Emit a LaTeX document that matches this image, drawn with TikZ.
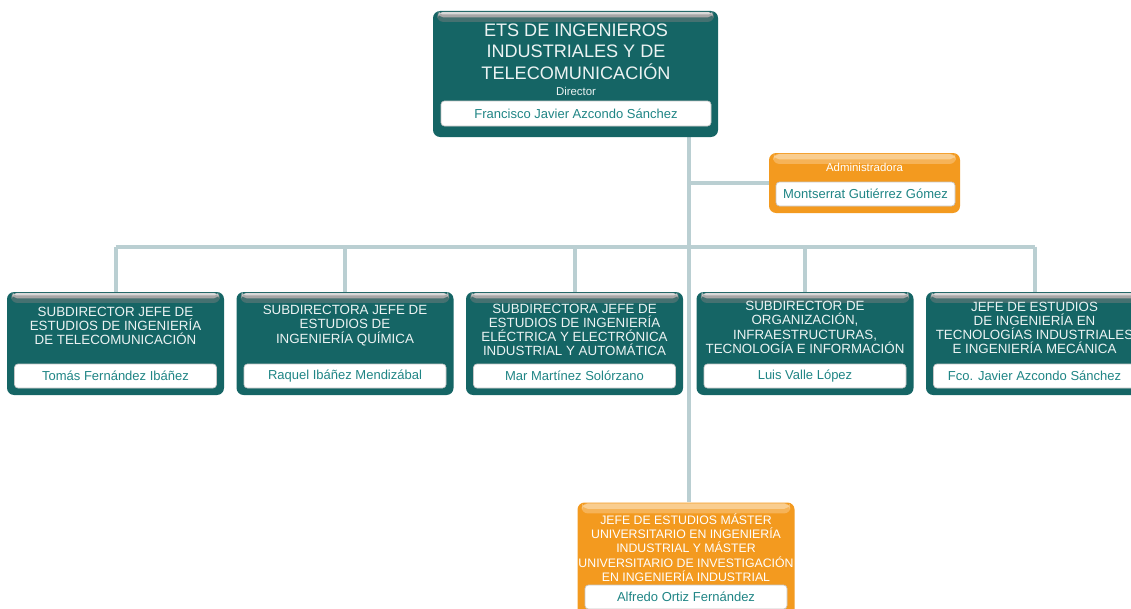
\documentclass[tikz,border=0pt]{standalone}
\usepackage{fontspec}
\setmainfont{Liberation Sans}
\usetikzlibrary{backgrounds}
\definecolor{etsteal}{HTML}{156565}
\definecolor{etsorange}{HTML}{F39A1F}
\definecolor{etsname}{HTML}{1F8585}
\definecolor{etslink}{HTML}{BACFD2}

\begin{document}
\begin{tikzpicture}[x=0.02cm,y=-0.02cm,
unit/.style={rounded corners=4pt,fill=etsteal,inner sep=0pt,
minimum width=217*0.02cm,minimum height=103*0.02cm,
path picture={
\fill[rounded corners=3.5pt,gray!45!etsteal]
([xshift=2.3pt,yshift=-0.4pt]path picture bounding box.north west) rectangle
([xshift=-2.3pt,yshift=-6.2pt]path picture bounding box.north east);
\fill[rounded corners=3pt,gray!70]
([xshift=2.8pt,yshift=-0.6pt]path picture bounding box.north west) rectangle
([xshift=-2.8pt,yshift=-3.6pt]path picture bounding box.north east);
\fill[rounded corners=2pt,gray!30]
([xshift=3.3pt,yshift=-0.7pt]path picture bounding box.north west) rectangle
([xshift=-3.3pt,yshift=-1.9pt]path picture bounding box.north east);}},
admin/.style={unit,fill=etsorange,
path picture={
\fill[rounded corners=3.5pt,etsorange!75!white]
([xshift=2.3pt,yshift=-0.4pt]path picture bounding box.north west) rectangle
([xshift=-2.3pt,yshift=-6.2pt]path picture bounding box.north east);
\fill[rounded corners=3pt,etsorange!50!white]
([xshift=2.8pt,yshift=-0.6pt]path picture bounding box.north west) rectangle
([xshift=-2.8pt,yshift=-3.6pt]path picture bounding box.north east);}},
role/.style={align=center,font=\fontsize{7.6}{8.1}\selectfont,text=white!92!etsteal,inner sep=0pt},
small/.style={role,font=\fontsize{6.5}{7.5}\selectfont},
person/.style={draw=gray!45,fill=white,rounded corners=2pt,inner sep=0pt,
font=\fontsize{7.4}{8.5}\selectfont,text=etsname,
minimum width=202*0.02cm,minimum height=24*0.02cm},
link/.style={draw=etslink,line width=4*0.02cm}
]
\path[use as bounding box,clip] (0,0) rectangle (1131,608);

% director
\node[unit,minimum width=285*0.02cm,minimum height=126*0.02cm] (dir) at (575.5,74) {};
\node[role,font=\fontsize{10.3}{12.2}\selectfont] (dirT) at (576,51.5) {ETS DE INGENIEROS\\INDUSTRIALES Y DE\\TELECOMUNICACIÓN};
\node[small] (dirR) at (576,91) {Director};
\node[person,minimum width=270*0.02cm,minimum height=25*0.02cm] (dirN) at (576,113.5) {Francisco Javier Azcondo Sánchez};

% administradora
\node[admin,minimum width=191*0.02cm,minimum height=60*0.02cm] (adm) at (864.5,183) {};
\node[small,text=white] (admR) at (864.5,167) {Administradora};
\node[person,minimum width=179*0.02cm] (admN) at (865.5,194) {Montserrat Gutiérrez Gómez};

% subdirecciones
\node[unit] (s1) at (115.5,343.5) {};
\node[role] (s1T) at (115.5,326) {SUBDIRECTOR JEFE DE\\ESTUDIOS DE INGENIERÍA\\DE TELECOMUNICACIÓN};
\node[person] (s1N) at (115.5,376) {Tomás Fernández Ibáñez};

\node[unit] (s2) at (345,343.5) {};
\node[role] (s2T) at (345,325.5) {SUBDIRECTORA JEFE DE\\ESTUDIOS DE\\INGENIERÍA QUÍMICA};
\node[person] (s2N) at (345,376) {Raquel Ibáñez Mendizábal};

\node[unit] (s3) at (574.5,343.5) {};
\node[role] (s3T) at (574.5,330) {SUBDIRECTORA JEFE DE\\ESTUDIOS DE INGENIERÍA\\ELÉCTRICA Y ELECTRÓNICA\\INDUSTRIAL Y AUTOMÁTICA};
\node[person] (s3N) at (574.5,376) {Mar Martínez Solórzano};

\node[unit] (s4) at (805,343.5) {};
\node[role] (s4T) at (805,327.5) {SUBDIRECTOR DE\\ORGANIZACIÓN,\\INFRAESTRUCTURAS,\\TECNOLOGÍA E INFORMACIÓN};
\node[person] (s4N) at (805,376) {Luis Valle López};

\node[unit] (s5) at (1034.5,343.5) {};
\node[role] (s5T) at (1034.5,328) {JEFE DE ESTUDIOS\\DE INGENIERÍA EN\\TECNOLOGÍAS INDUSTRIALES\\E INGENIERÍA MECÁNICA};
\node[person] (s5N) at (1034.5,376) {Fco. Javier Azcondo Sánchez};

% master
\node[admin,minimum height=125*0.02cm] (mst) at (686,565) {};
\node[role,text=white,font=\fontsize{7.0}{8.1}\selectfont] (mstT) at (686,547.5) {JEFE DE ESTUDIOS MÁSTER\\UNIVERSITARIO EN INGENIERÍA\\INDUSTRIAL Y MÁSTER\\UNIVERSITARIO DE INVESTIGACIÓN\\EN INGENIERÍA INDUSTRIAL};
\node[person] (mstN) at (686,597) {Alfredo Ortiz Fernández};

% lines
\begin{scope}[on background layer]
\coordinate (trunk) at (689,137);
\coordinate (bus) at (689,246.5);
\draw[link] (trunk) -- (trunk |- mst.north);
\draw[link] (trunk |- adm.west) -- (adm.west);
\draw[link] (bus -| s1.north) -- (bus -| s5.north);
\draw[link] (bus -| s1.north) -- (s1.north);
\draw[link] (bus -| s2.north) -- (s2.north);
\draw[link] (bus -| s3.north) -- (s3.north);
\draw[link] (bus -| s4.north) -- (s4.north);
\draw[link] (bus -| s5.north) -- (s5.north);
\end{scope}
\end{tikzpicture}
\end{document}
